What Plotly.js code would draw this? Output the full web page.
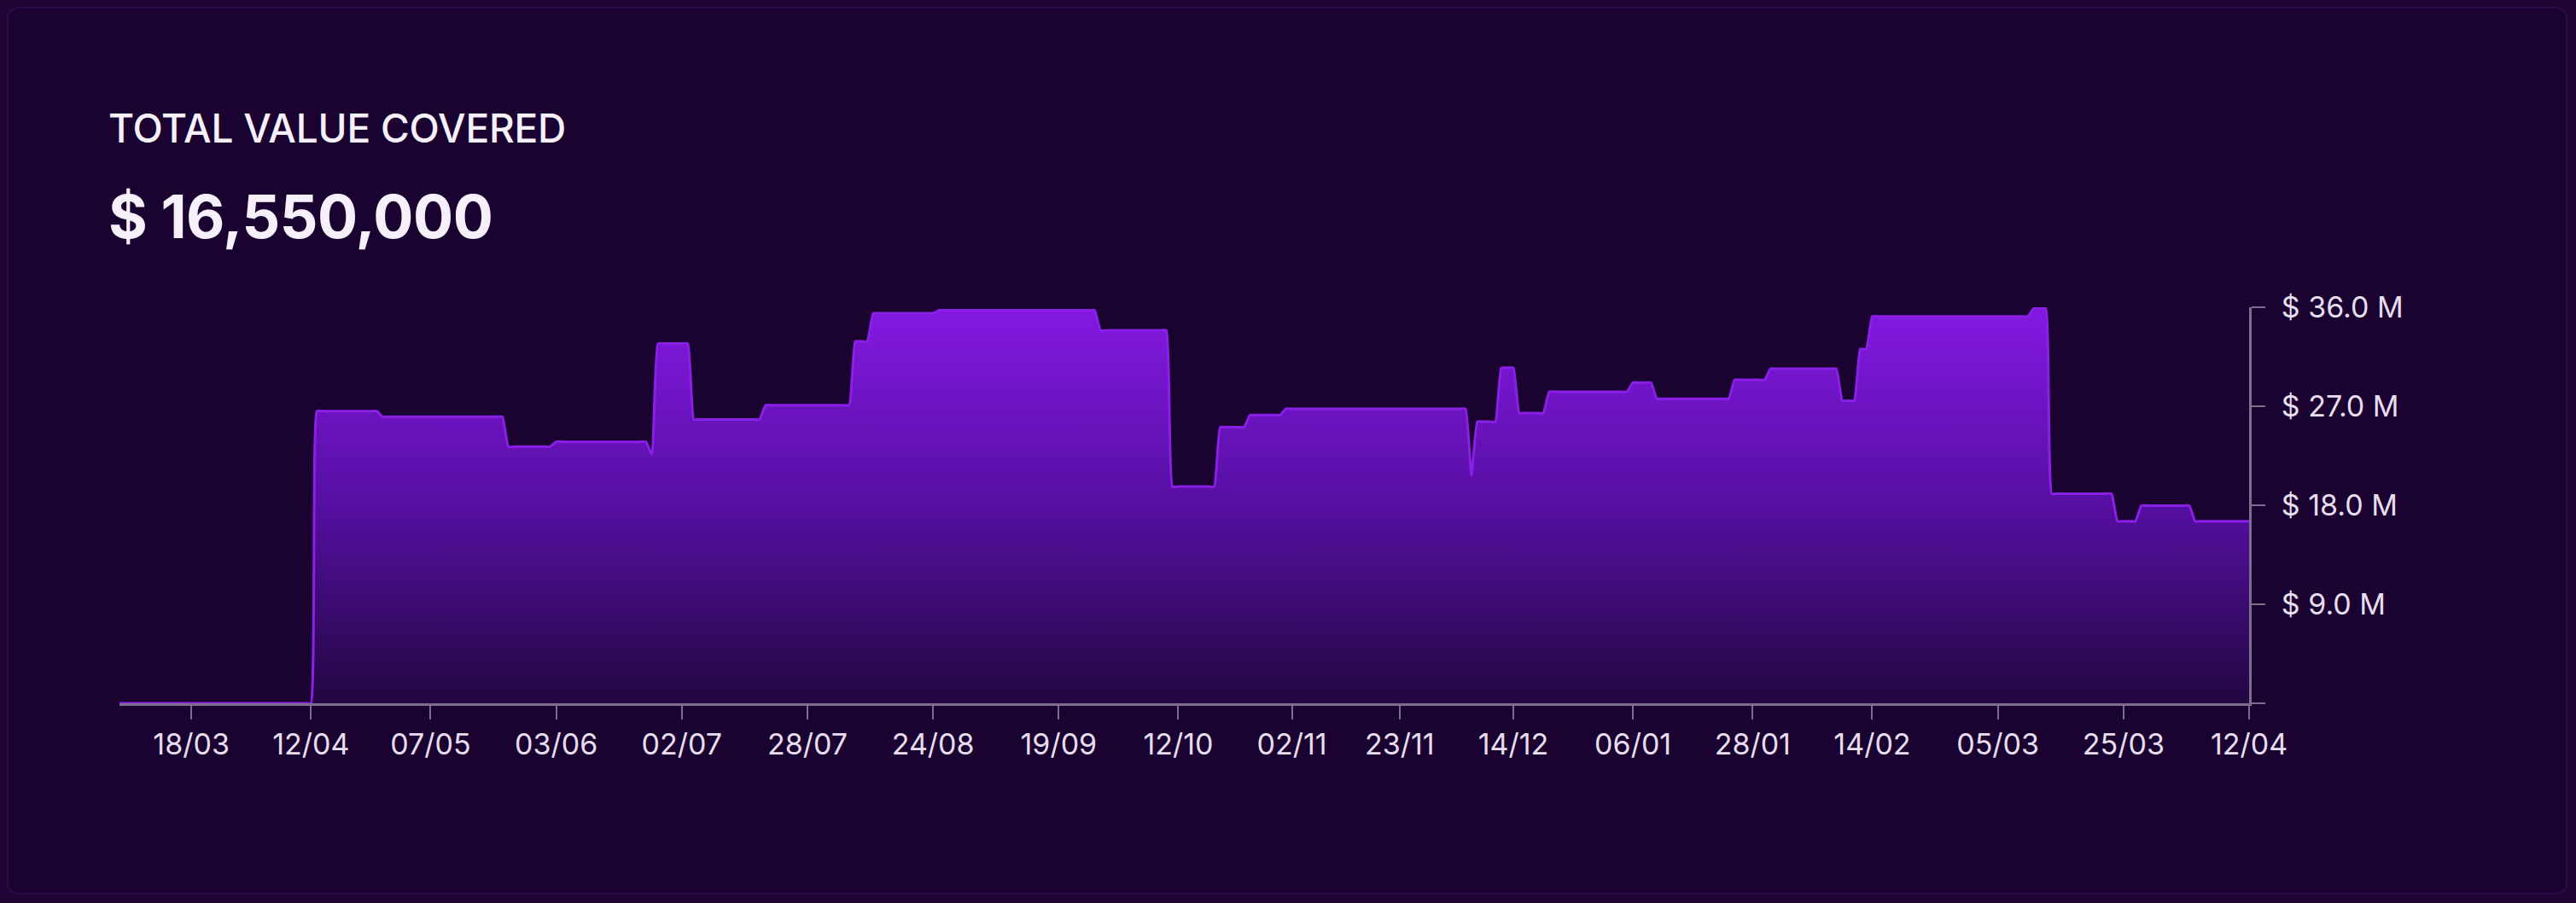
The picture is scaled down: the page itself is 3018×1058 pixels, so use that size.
<!DOCTYPE html>
<html>
<head>
<meta charset="utf-8">
<script src="https://cdn.plot.ly/plotly-3.0.1.min.js"></script>
<style>
  html, body { margin: 0; padding: 0; }
  body { width: 3018px; height: 1058px; background: #1f0637; position: relative; overflow: hidden; font-family: Inter, "Noto Sans", sans-serif; }
  #card { position: absolute; left: 8px; top: 8px; right: 10px; bottom: 10px; background: #1a0330; border: 2px solid #2a0c47; border-radius: 14px; }
  #chart { position: absolute; left: 0; top: 0; width: 3018px; height: 1058px; }
  .label { position: absolute; left: 127px; color: #f6f0fb; line-height: 1; white-space: nowrap; }
  #title { top: 127px; font-size: 46px; font-weight: 500; letter-spacing: -0.2px; }
  #total { top: 219px; font-size: 70px; font-weight: 700; letter-spacing: -0.5px; }
</style>
</head>
<body>
<div id="card"></div>
<div id="chart"></div>
<div id="title" class="label"></div>
<div id="total" class="label"></div>
<script>
// ---- data ----
const chartTitle = "TOTAL VALUE COVERED";
const currentTotalUSD = 16550000;

// value covered, in millions of USD, held for a number of consecutive snapshots
const runLengths = [33, 11, 21, 8, 16, 1, 6, 12, 15, 3, 11, 27, 12, 8, 5, 6, 31, 1, 4, 3, 5, 14, 4, 13, 6, 12, 3, 2, 27, 3, 11, 4, 9, 10];
const runValuesM = [0, 26.56, 26.05, 23.33, 23.77, 22.6, 32.7, 25.8, 27.1, 32.9, 35.46, 35.73, 33.9, 19.7, 25.1, 26.2, 26.77, 20.7, 25.6, 30.5, 26.38, 28.32, 29.15, 27.68, 29.4, 30.41, 27.52, 32.2, 35.17, 35.9, 19.05, 16.55, 17.97, 16.55];

// x-axis date labels and the snapshot they sit on
const tickLabels = ["18/03", "12/04", "07/05", "03/06", "02/07", "28/07", "24/08", "19/09", "12/10", "02/11", "23/11", "14/12", "06/01", "28/01", "14/02", "05/03", "25/03", "12/04"];
const tickSnapshots = [12, 32, 52, 73, 94, 115, 136, 157, 177, 196, 214, 233, 253, 273, 293, 314, 335, 356];

// y-axis ticks (USD)
const yTickValues = [0, 9000000, 18000000, 27000000, 36000000];
const yTickLabels = ["", "$ 9.0 M", "$ 18.0 M", "$ 27.0 M", "$ 36.0 M"];

// ---- build series from runs ----
const xs = [], ys = [];
runLengths.forEach((len, i) => {
  for (let k = 0; k < len; k++) { xs.push(xs.length); ys.push(runValuesM[i] * 1e6); }
});

document.getElementById('title').textContent = chartTitle;
document.getElementById('total').textContent = '$ ' + currentTotalUSD.toLocaleString('en-US');

const axisColor = '#7d6e8e';
const tickFont = { family: 'Inter, "Noto Sans", sans-serif', size: 34, color: '#e6deef' };

const trace = {
  x: xs, y: ys, type: 'scatter', mode: 'lines',
  line: { color: '#8a1fe8', width: 3, shape: 'spline', smoothing: 0.4 },
  fill: 'tozeroy',
  fillgradient: {
    type: 'vertical',
    start: 0, stop: 36000000,
    colorscale: [[0, '#220741'], [0.5, '#560fa2'], [1, '#8419e2']]
  },
  hoverinfo: 'skip'
};

const layout = {
  width: 3018, height: 1058,
  paper_bgcolor: 'rgba(0,0,0,0)', plot_bgcolor: 'rgba(0,0,0,0)',
  margin: { l: 140, r: 383, t: 360, b: 234, pad: 0 },
  showlegend: false,
  xaxis: {
    range: [0, xs.length - 1], showgrid: false, zeroline: false,
    showline: true, linecolor: axisColor, linewidth: 3,
    ticks: 'outside', ticklen: 16, tickwidth: 2, tickcolor: axisColor,
    tickmode: 'array', tickvals: tickSnapshots, ticktext: tickLabels,
    tickfont: tickFont, ticklabelstandoff: 0, fixedrange: true
  },
  yaxis: {
    side: 'right', range: [0, 36000000], showgrid: false, zeroline: false,
    showline: true, linecolor: axisColor, linewidth: 3,
    ticks: 'outside', ticklen: 16, tickwidth: 2, tickcolor: axisColor,
    tickmode: 'array', tickvals: yTickValues, ticktext: yTickLabels,
    tickfont: tickFont, ticklabelstandoff: 12, fixedrange: true
  }
};

Plotly.newPlot('chart', [trace], layout, { staticPlot: true, displayModeBar: false });
</script>
</body>
</html>
